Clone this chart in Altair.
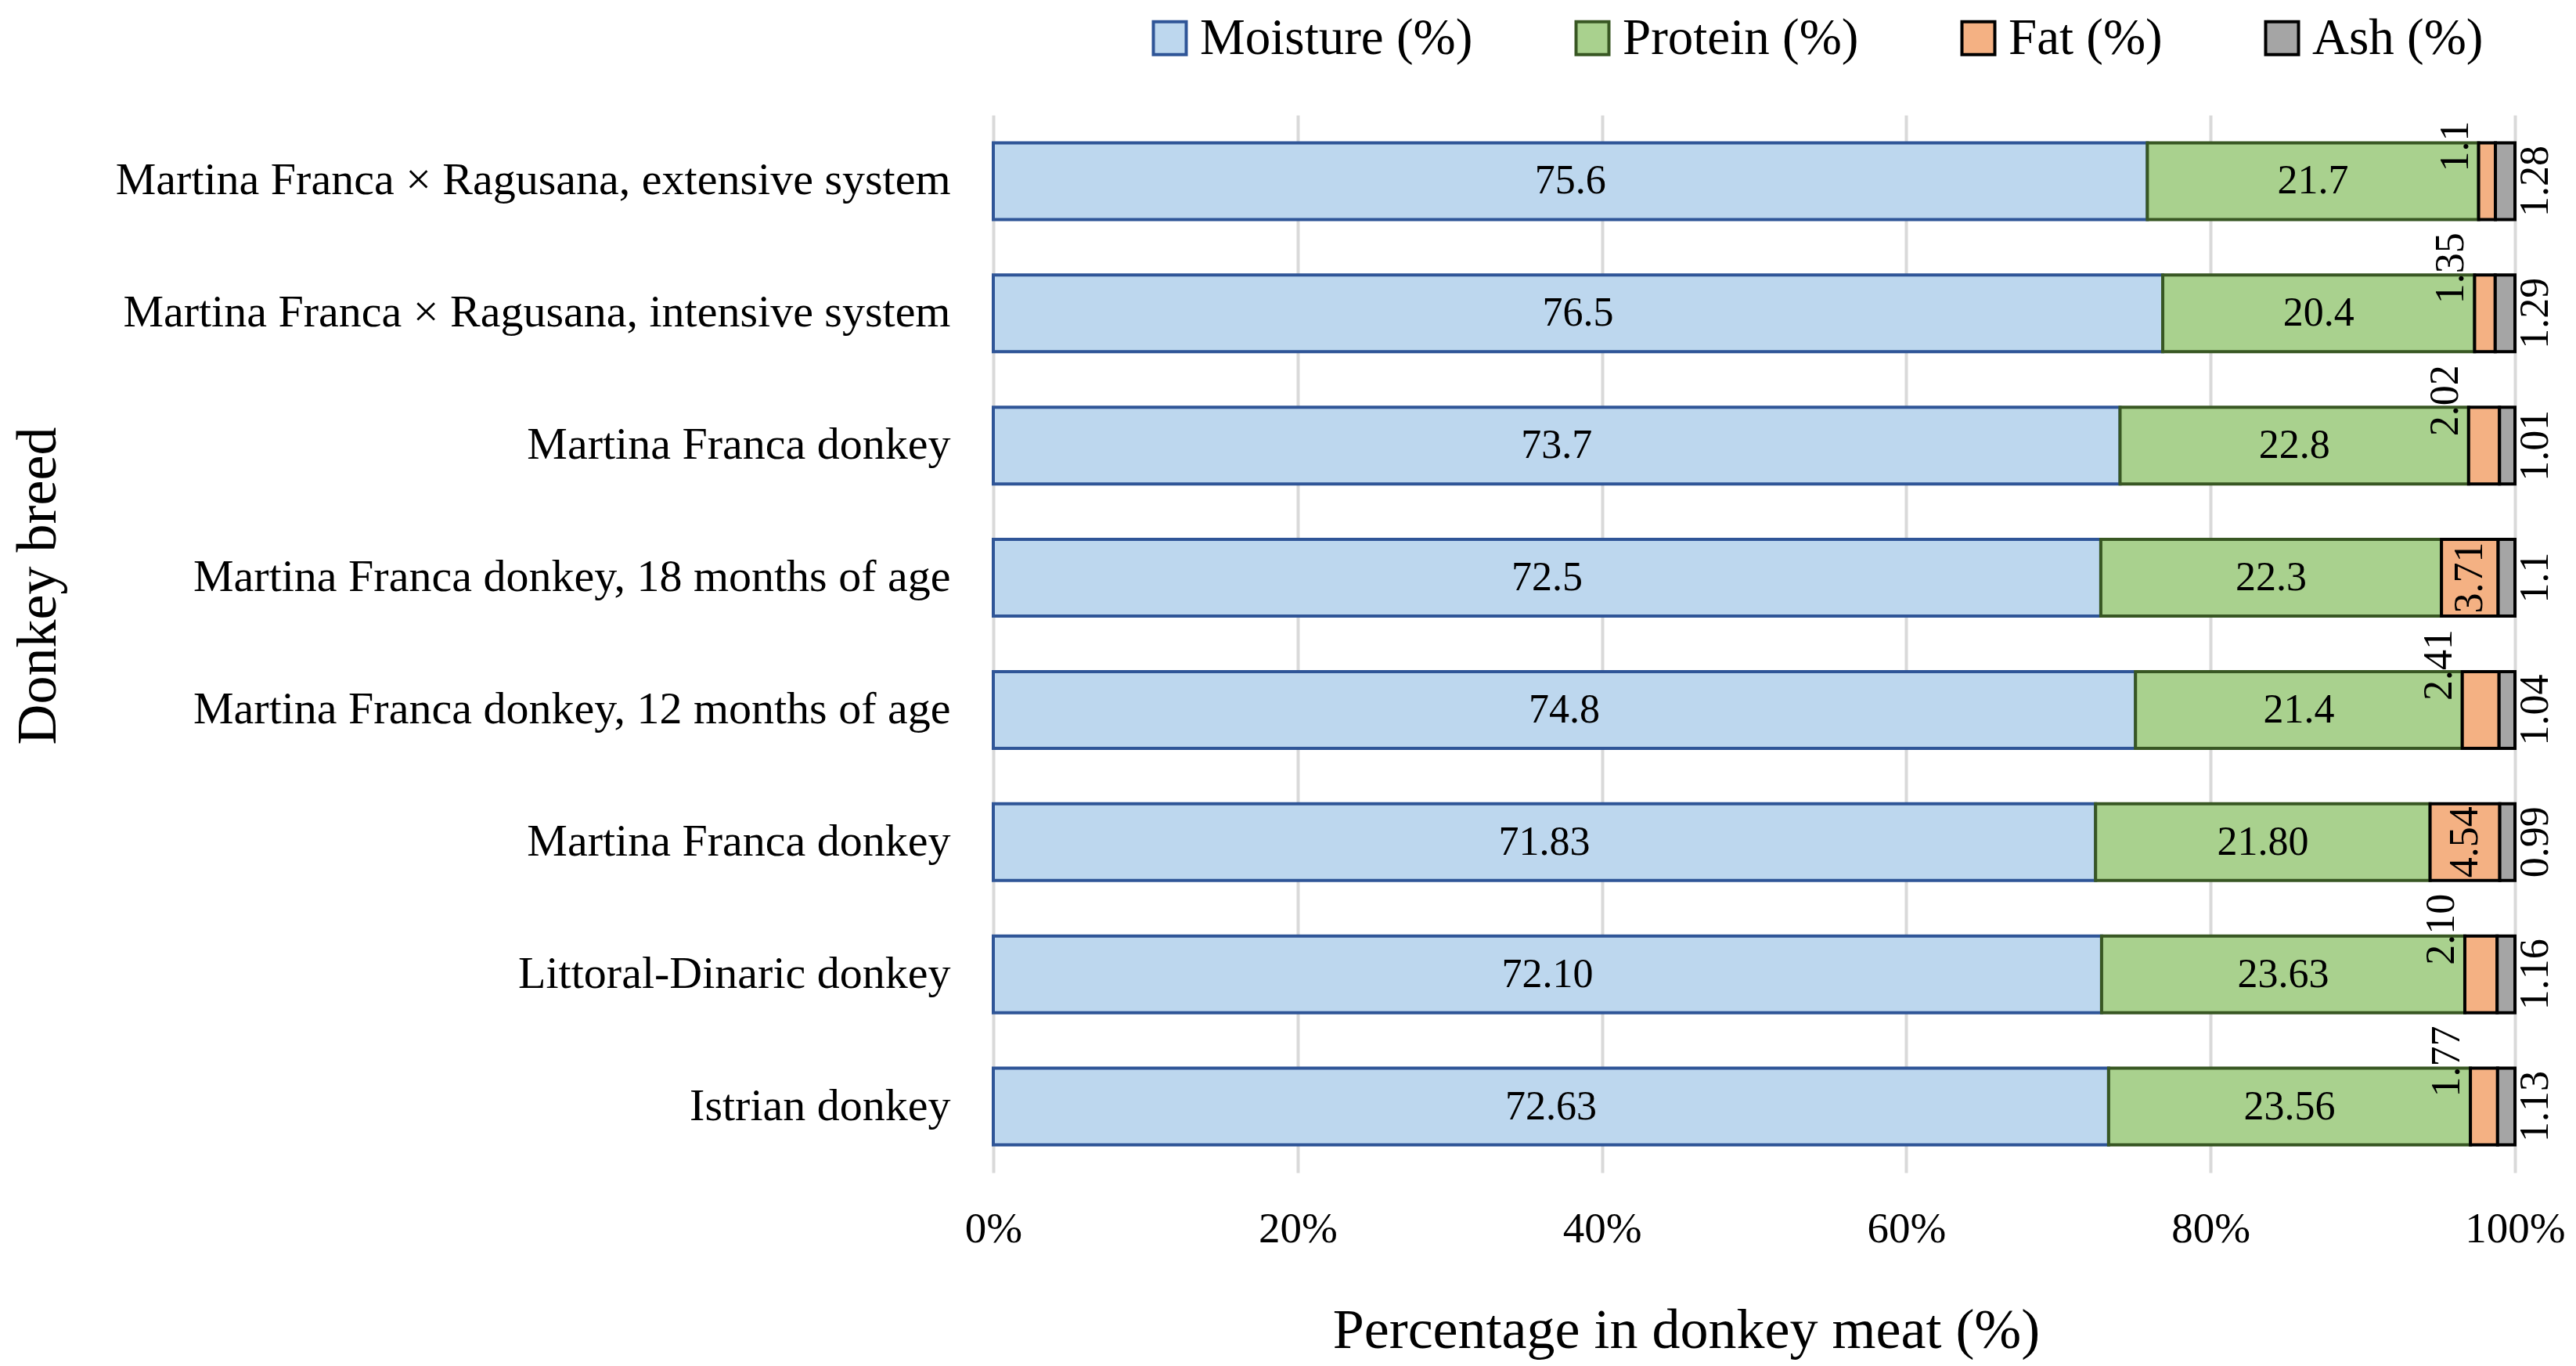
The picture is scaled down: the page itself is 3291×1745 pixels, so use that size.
import json
import altair as alt
import pandas as pd

# ---- data (top-to-bottom order as in the figure) ----
breeds = [
    "Martina Franca × Ragusana,  extensive system",
    "Martina Franca × Ragusana, intensive system",
    "Martina Franca donkey",
    "Martina Franca donkey, 18 months of age",
    "Martina Franca donkey, 12 months of age",
    "Martina Franca donkey",
    "Littoral-Dinaric donkey",
    "Istrian donkey",
]
moisture = ["75.6", "76.5", "73.7", "72.5", "74.8", "71.83", "72.10", "72.63"]
protein = ["21.7", "20.4", "22.8", "22.3", "21.4", "21.80", "23.63", "23.56"]
fat = ["1.1", "1.35", "2.02", "3.71", "2.41", "4.54", "2.10", "1.77"]
ash = ["1.28", "1.29", "1.01", "1.1", "1.04", "0.99", "1.16", "1.13"]

components = ["Moisture (%)", "Protein (%)", "Fat (%)", "Ash (%)"]
fills = ["#BDD7EE", "#A9D18E", "#F4B183", "#A5A5A5"]
strokes = ["#2F5597", "#385723", "#000000", "#000000"]

rows = []
for i in range(len(breeds)):
    for j, series in enumerate([moisture, protein, fat, ash]):
        rows.append({
            "key": i,
            "comp": components[j],
            "order": j,
            "value": float(series[i]),
            "label": series[i],
        })
df = pd.DataFrame(rows)

FONT = "Liberation Serif"
label_expr = json.dumps(breeds, ensure_ascii=False) + "[datum.value]"

y_enc = alt.Y(
    "key:O",
    sort=list(range(len(breeds))),
    scale=alt.Scale(paddingInner=0.42, paddingOuter=0.21),
    axis=alt.Axis(
        labelExpr=label_expr,
        labelFont=FONT,
        labelFontSize=58,
        labelColor="#000000",
        labelPadding=55,
        labelLimit=0,
        ticks=False,
        domain=False,
        grid=False,
        title="Donkey breed",
        titleFont=FONT,
        titleFontSize=72,
        titleFontWeight="normal",
        titleColor="#000000",
        titleAngle=270,
        titleX=-1199,
        titleY=601,
        titleAlign="center",
        titleBaseline="alphabetic",
    ),
)

x_scale = alt.Scale(domain=[0, 1])

base = alt.Chart(df).transform_stack(
    stack="value",
    groupby=["key"],
    as_=["v0", "v1"],
    offset="normalize",
    sort=[alt.SortField("order")],
).transform_calculate(mid="(datum.v0 + datum.v1) / 2")

legend = alt.Legend(
    orient="none",
    legendX=193,
    legendY=-131,
    direction="horizontal",
    columns=4,
    title=None,
    symbolType="square",
    symbolSize=1764,
    symbolStrokeWidth=4,
    symbolOpacity=1,
    labelFont=FONT,
    labelFontSize=65,
    labelColor="#000000",
    labelLimit=0,
    labelOffset=6,
    columnPadding=120,
)

bars = base.mark_bar(strokeWidth=4).encode(
    y=y_enc,
    x=alt.X(
        "v0:Q",
        scale=x_scale,
        axis=alt.Axis(
            values=[0, 0.2, 0.4, 0.6, 0.8, 1.0],
            format=".0%",
            labelFont=FONT,
            labelFontSize=55,
            labelColor="#000000",
            labelPadding=45,
            labelFlush=False,
            ticks=False,
            domain=False,
            grid=True,
            gridColor="#D9D9D9",
            gridWidth=4,
            title="Percentage in donkey meat (%)",
            titleFont=FONT,
            titleFontSize=72,
            titleFontWeight="normal",
            titleColor="#000000",
            titleX=885,
            titleY=223,
            titleAlign="center",
            titleBaseline="alphabetic",
        ),
    ),
    x2="v1:Q",
    fill=alt.Fill("comp:N", scale=alt.Scale(domain=components, range=fills), legend=legend),
    stroke=alt.Stroke("comp:N", scale=alt.Scale(domain=components, range=strokes), legend=legend),
)

txt_kw = dict(font=FONT, fontSize=52, color="#000000")
y_plain = alt.Y("key:O", sort=list(range(len(breeds))))

main_labels = base.transform_filter(
    "datum.order <= 1"
).mark_text(align="center", baseline="middle", **txt_kw).encode(
    y=y_plain,
    x=alt.X("mid:Q", scale=x_scale),
    text="label:N",
)

fat_inside = base.transform_filter(
    "datum.order == 2 && datum.value >= 3"
).mark_text(angle=270, align="center", baseline="middle", **txt_kw).encode(
    y=y_plain,
    x=alt.X("mid:Q", scale=x_scale),
    text="label:N",
)

fat_outside = base.transform_filter(
    "datum.order == 2 && datum.value < 3"
).mark_text(angle=270, align="left", baseline="alphabetic", xOffset=-14, yOffset=-12, **txt_kw).encode(
    y=y_plain,
    x=alt.X("v0:Q", scale=x_scale),
    text="label:N",
)

ash_labels = base.transform_filter(
    "datum.order == 3"
).mark_text(angle=270, align="center", baseline="middle", xOffset=26, **txt_kw).encode(
    y=y_plain,
    x=alt.X("v1:Q", scale=x_scale),
    text="label:N",
)

chart = alt.layer(bars, main_labels, fat_inside, fat_outside, ash_labels).properties(
    width=1944,
    height=1351,
    autosize=alt.AutoSizeParams(type="none"),
    padding={"left": 1261, "top": 139, "right": 70, "bottom": 239},
    background="white",
).configure_view(stroke=None)

chart.save("out.html", embed_options={"renderer": "svg", "actions": False})
